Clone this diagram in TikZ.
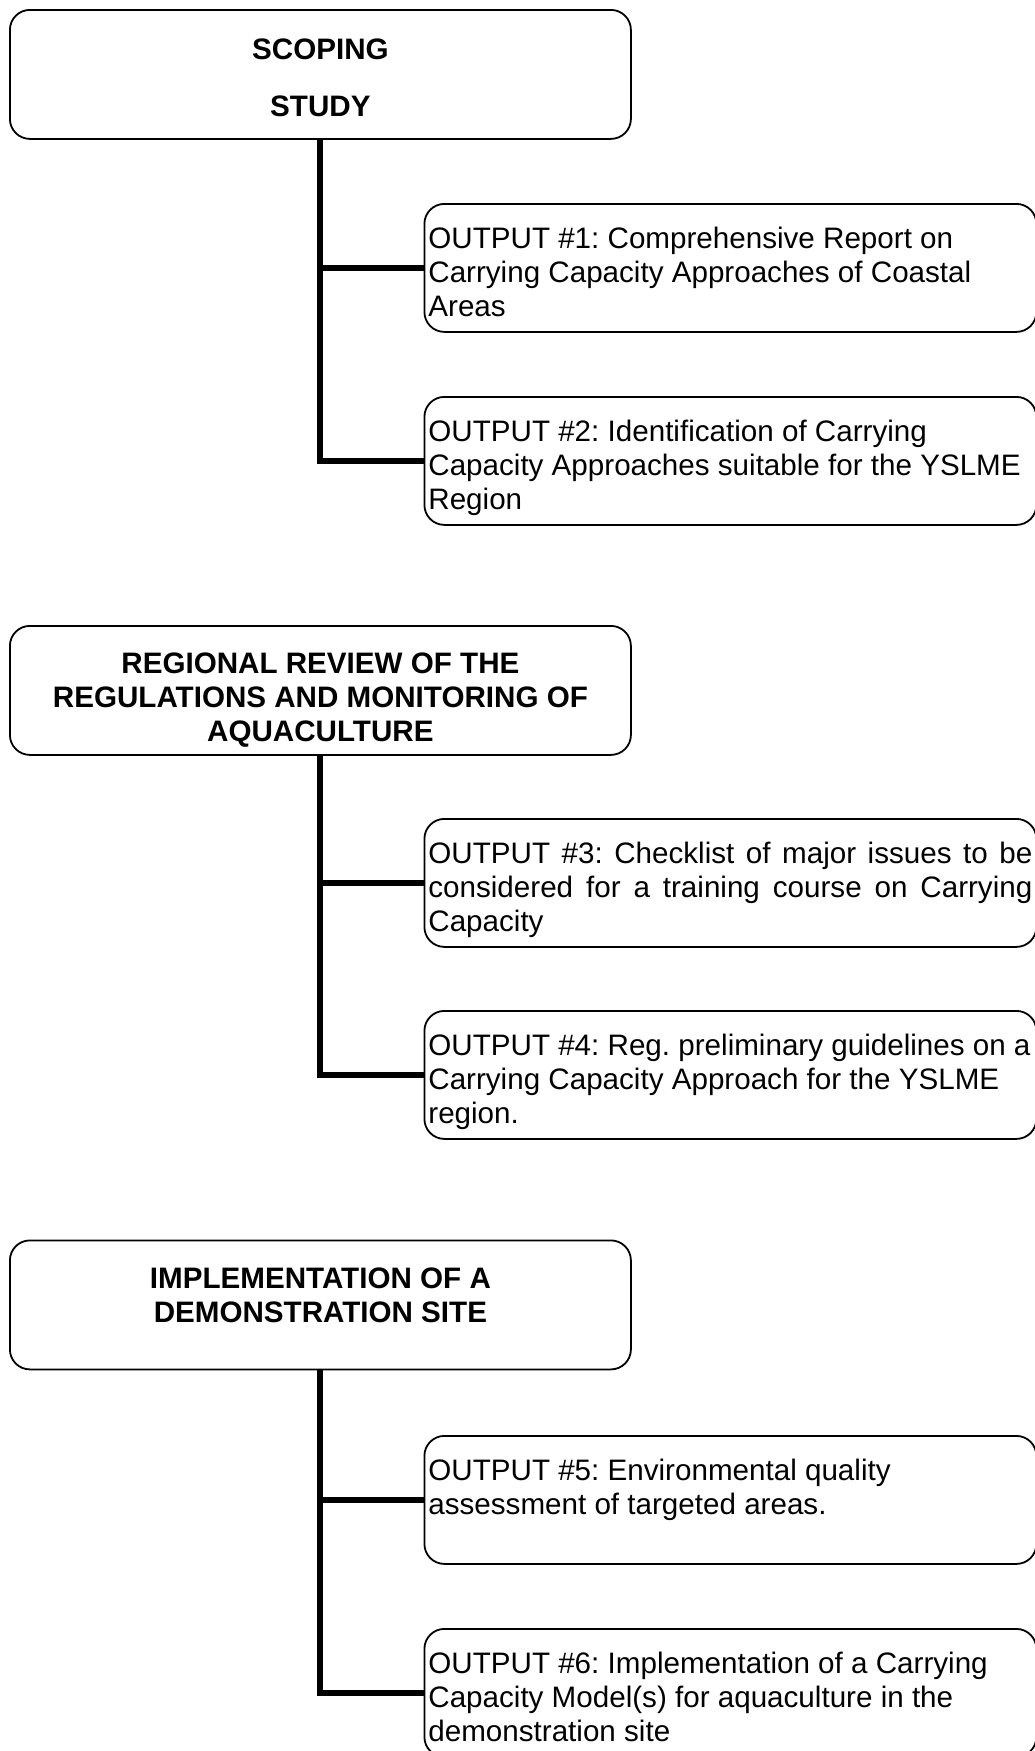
\documentclass[tikz,border=0pt]{standalone}
\usepackage{fontspec}
\setmainfont{Liberation Sans}
\frenchspacing
\usetikzlibrary{positioning}
\tikzset{
    stagebox/.style={draw, line width=0.9pt, rounded corners=10pt, anchor=north west,
        inner sep=0pt, minimum width=310.5pt, minimum height=64.5pt},
    outbox/.style={draw, line width=0.9pt, rounded corners=10pt, anchor=north west,
        inner xsep=2pt, inner ysep=0pt, minimum height=64pt},
    link/.style={line width=3pt}
}
% top-aligned text inside the fixed-size boxes
\newcommand{\stagetext}[2]{\parbox[c][64.5pt][t]{300.5pt}{\fontsize{14.8}{17}\selectfont
    \centering\bfseries\rule{0pt}{#1}#2}\hspace{10pt}}
\newcommand{\outtext}[1]{\parbox[c][64pt][t]{302pt}{\fontsize{14.8}{17}\selectfont
    \raggedright\rule{0pt}{22.5pt}#1}}

\begin{document}
\begin{tikzpicture}[x=0.5pt, y=-0.5pt]
\useasboundingbox (0,0) rectangle (1034,1751);

% first stage
\node[stagebox] (scoping) at (9,9) {\stagetext{25pt}{SCOPING\\[11.5pt] STUDY}};
\node[outbox] (out1) at (423.5,203) {\outtext{OUTPUT \#1: Comprehensive Report on\\
    Carrying Capacity Approaches of Coastal\\ Areas}};
\node[outbox] (out2) at (423.5,396) {\outtext{OUTPUT \#2: Identification of Carrying\\
    Capacity Approaches suitable for the YSLME\\ Region}};
\draw[link] (scoping.south) |- (out2.west);
\draw[link] (scoping.south |- out1.west) -- (out1.west);

% second stage
\node[stagebox] (review) at (9,625) {\stagetext{24pt}{REGIONAL REVIEW OF THE\\
    REGULATIONS AND MONITORING OF\\ AQUACULTURE}};
\node[outbox] (out3) at (423.5,818) {\parbox[c][64pt][t]{302pt}{\fontsize{14.8}{17}\selectfont
    \rule{0pt}{22.5pt}OUTPUT \#3: Checklist of major issues to be\linebreak
    considered for a training course on Carrying\linebreak Capacity}};
\node[outbox] (out4) at (423.5,1010) {\outtext{OUTPUT \#4: Reg. preliminary guidelines on~a\\
    Carrying Capacity Approach for the YSLME\\ region.}};
\draw[link] (review.south) |- (out4.west);
\draw[link] (review.south |- out3.west) -- (out3.west);

% third stage
\node[stagebox] (demo) at (9,1239.5) {\stagetext{24pt}{IMPLEMENTATION OF A\\
    DEMONSTRATION SITE}};
\node[outbox] (out5) at (423.5,1435) {\outtext{OUTPUT \#5: Environmental quality\\
    assessment of targeted areas.}};
\node[outbox] (out6) at (423.5,1628) {\outtext{OUTPUT \#6: Implementation of a Carrying\\
    Capacity Model(s) for aquaculture in the\\ demonstration site}};
\draw[link] (demo.south) |- (out6.west);
\draw[link] (demo.south |- out5.west) -- (out5.west);
\end{tikzpicture}
\end{document}
